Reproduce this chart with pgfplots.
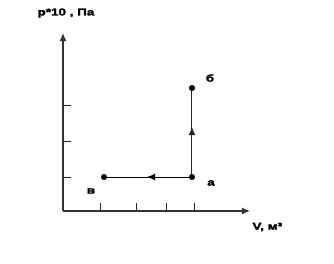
\documentclass[border=0pt]{standalone}
\usepackage{pgfplots}
\pgfplotsset{compat=1.18}
\usepackage{fontspec}
\newfontfamily\lbl{Liberation Sans Bold}[FakeStretch=1.35, FakeBold=2.5]
\usetikzlibrary{arrows.meta,decorations.markings}
\begin{document}
\begin{tikzpicture}
\begin{axis}[
  width=187bp, height=178bp, scale only axis,
  xmin=0, xmax=187, ymin=0, ymax=178,
  axis lines=left,
  axis line style={line width=1.2bp, color=black!80, -{Latex[length=8bp,width=7bp]}},
  xtick={38,74,104,132}, ytick={34,70,106},
  xticklabels={}, yticklabels={},
  tick align=inside, major tick length=8bp,
  tick style={line width=1bp, color=black!85},
  clip=false,
  font=\fontsize{10}{12}\selectfont\lbl,
]
\path (axis cs:-63,-53) rectangle (axis cs:271,211);
\addplot[black, line width=1bp, postaction={decorate},
  decoration={markings, mark=at position 0.51 with {\arrow{Latex[length=8bp,width=7bp]}}}]
  coordinates {(129,34) (41,34)};
\addplot[black!85, line width=1bp, postaction={decorate},
  decoration={markings, mark=at position 0.56 with {\arrow{Latex[length=8bp,width=7bp]}}}]
  coordinates {(129,34) (129,123)};
\addplot[only marks, mark=*, mark size=2.8bp, black] coordinates {(41,34) (129,34) (129,123)};
\node at (axis cs:3,198) {p*10 , Па};
\node[anchor=west] at (axis cs:186,-16) {V, м³};
\node at (axis cs:147,133) {б};
\node at (axis cs:148,28) {а};
\node at (axis cs:28,20) {в};
\end{axis}
\end{tikzpicture}
\end{document}
